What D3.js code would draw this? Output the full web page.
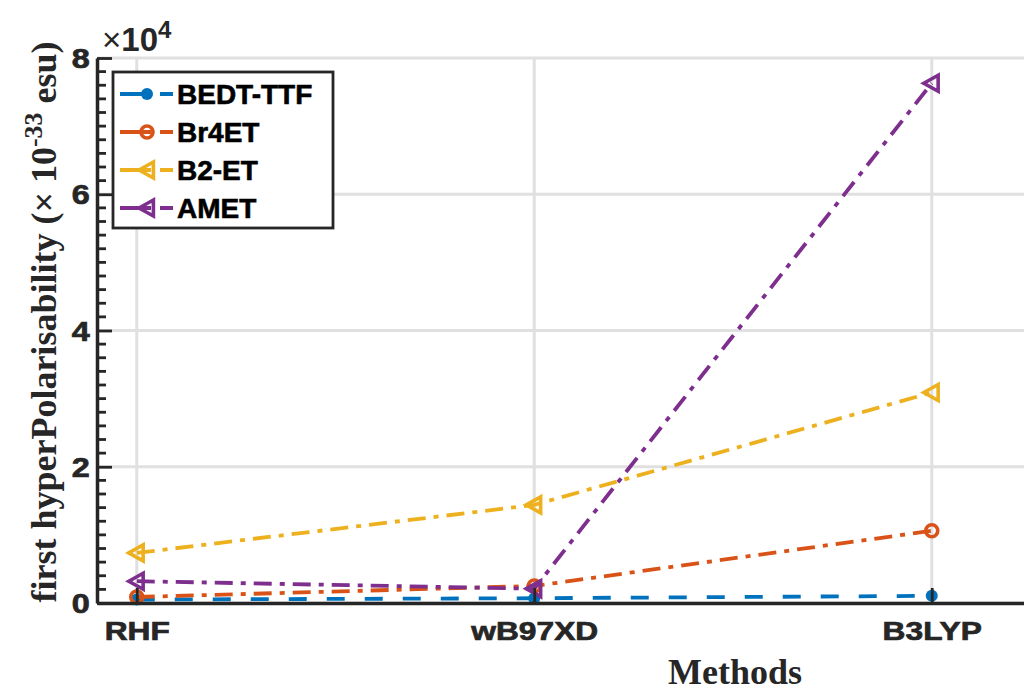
<!DOCTYPE html>
<html><head><meta charset="utf-8">
<script src="https://cdn.jsdelivr.net/npm/d3@7"></script>
<style>
body{margin:0;background:#fff;}
svg{display:block;}
</style></head>
<body><svg id="c" width="1024" height="691"></svg>
<script>
const categories = ["RHF", "wB97XD", "B3LYP"];
const seriesNames = ["BEDT-TTF", "Br4ET", "B2-ET", "AMET"];
const bedtValues = [500, 700, 1050];
const br4Values = [880, 2500, 10600];
const b2Values = [7350, 14400, 30900];
const ametValues = [3200, 2100, 76300];
const yTicks = [0, 20000, 40000, 60000, 80000];
const yTickLabels = ["0", "2", "4", "6", "8"];

const colors = ["#0072BD", "#D95319", "#EDB120", "#7E2F8E"];
const dashes = ["18,20", "18,8,5,8", "18,8,5,8", "18,8,5,8"];
const markerTypes = ["dot", "circle", "tri", "tri"];
const allValues = [bedtValues, br4Values, b2Values, ametValues];

const svg = d3.select("#c");
const pLeft = 97, pBottom = 603, pTop = 58;
const x = d3.scaleLinear().domain([0.9, 3.3]).range([pLeft, pLeft + 2.4 * 397.5]);
const y = d3.scaleLinear().domain([0, 80000]).range([pBottom, pTop]);
const axisCol = "#262626";
const sans = "Liberation Sans, Arial, sans-serif";
const serif = "Liberation Serif, Times New Roman, serif";

// grid
const grid = svg.append("g").attr("stroke", "#e0e0e0").attr("stroke-width", 3);
categories.forEach((c, i) => grid.append("line").attr("x1", x(i + 1)).attr("x2", x(i + 1)).attr("y1", pTop).attr("y2", pBottom));
yTicks.forEach(t => grid.append("line").attr("x1", pLeft).attr("x2", 1024).attr("y1", y(t)).attr("y2", y(t)));

// lines
const line = d3.line().x((d, i) => x(i + 1)).y(d => y(d));
function marker(g, type, color, cx, cy) {
  if (type === "dot") {
    g.append("circle").attr("cx", cx).attr("cy", cy).attr("r", 6).attr("fill", color);
  } else if (type === "circle") {
    g.append("circle").attr("cx", cx).attr("cy", cy).attr("r", 6).attr("fill", "none")
      .attr("stroke", color).attr("stroke-width", 3.6);
  } else {
    const s = 8;
    g.append("path").attr("d", `M${cx - s},${cy}L${cx + s * 0.8},${cy - s}L${cx + s * 0.8},${cy + s}Z`)
      .attr("fill", "none").attr("stroke", color).attr("stroke-width", 3.6).attr("stroke-linejoin", "miter");
  }
}
allValues.forEach((vals, k) => {
  svg.append("path").datum(vals).attr("d", line).attr("fill", "none")
    .attr("stroke", colors[k]).attr("stroke-width", 3.8).attr("stroke-dasharray", dashes[k]);
  const g = svg.append("g");
  vals.forEach((v, i) => marker(g, markerTypes[k], colors[k], x(i + 1), y(v)));
});

// minor ticks
const minor = d3.range(0, 80001, 2000).filter(v => v % 20000 !== 0);
svg.append("g").selectAll("rect").data(minor).join("rect")
  .attr("x", pLeft).attr("width", 9).attr("y", d => y(d) - 1.4).attr("height", 2.8)
  .attr("fill", axisCol);

// y axis
svg.append("g").attr("transform", `translate(${pLeft},0)`)
  .call(d3.axisLeft(y).tickValues(yTicks).tickSize(-15).tickPadding(6).tickSizeOuter(0)
    .tickFormat((d, i) => yTickLabels[i]))
  .call(g => g.select(".domain").attr("stroke", axisCol).attr("stroke-width", 3.5))
  .call(g => g.selectAll(".tick line").attr("stroke", axisCol).attr("stroke-width", 2.8))
  .call(g => g.selectAll("text").attr("fill", axisCol).attr("stroke", axisCol).attr("stroke-width", 0.7)
    .attr("font-family", sans).attr("font-weight", "bold")
    .attr("font-size", 27).attr("dy", "0.36em").attr("transform", "scale(1.2,1)"));

// x axis
svg.append("g").attr("transform", `translate(0,${pBottom})`)
  .call(d3.axisBottom(x).tickValues([1, 2, 3]).tickSize(-15).tickPadding(14).tickSizeOuter(0)
    .tickFormat((d, i) => categories[i]))
  .call(g => g.select(".domain").attr("stroke", axisCol).attr("stroke-width", 3.5))
  .call(g => g.selectAll(".tick line").attr("stroke", axisCol).attr("stroke-width", 2.8))
  .call(g => g.selectAll("text").attr("fill", axisCol).attr("stroke", axisCol).attr("stroke-width", 0.7)
    .attr("font-family", sans).attr("font-weight", "bold")
    .attr("font-size", 26).attr("dy", "0.9em").attr("transform", "scale(1.22,1)"));

// exponent label
const ex = svg.append("text").attr("x", 102).attr("y", 51).attr("fill", axisCol)
  .attr("font-family", sans).attr("font-size", 33);
ex.append("tspan").text("×");
ex.append("tspan").attr("font-weight", "bold").text("10");
ex.append("tspan").attr("font-weight", "bold").attr("font-size", 24).attr("dy", -13).text("4");

// axis titles
svg.append("text").attr("x", 735).attr("y", 684).attr("text-anchor", "middle")
  .attr("font-family", serif).attr("font-weight", "bold")
  .attr("font-size", 36).attr("fill", axisCol).text("Methods");

const yl = svg.append("text").attr("transform", "translate(56,322) rotate(-90)").attr("text-anchor", "middle")
  .attr("font-family", serif).attr("font-weight", "bold")
  .attr("font-size", 36).attr("fill", axisCol);
yl.append("tspan").text("first hyperPolarisability  (× 10");
yl.append("tspan").attr("font-size", 26).attr("dy", -14).text("-33");
yl.append("tspan").attr("dy", 14).text(" esu)");

// legend
const lg = svg.append("g");
lg.append("rect").attr("x", 113).attr("y", 72).attr("width", 220).attr("height", 156)
  .attr("fill", "#fff").attr("stroke", axisCol).attr("stroke-width", 2.8);
const rowY = [94, 132, 170, 208];
seriesNames.forEach((n, k) => {
  lg.append("line").attr("x1", 120).attr("x2", 173).attr("y1", rowY[k]).attr("y2", rowY[k])
    .attr("stroke", colors[k]).attr("stroke-width", 3.8).attr("stroke-dasharray", "31,9,13");
  marker(lg, markerTypes[k], colors[k], 147, rowY[k]);
  lg.append("text").attr("x", 177).attr("y", rowY[k]).attr("dy", "0.36em")
    .attr("font-family", sans).attr("font-weight", "bold").attr("stroke", "#000").attr("stroke-width", 0.6)
    .attr("font-size", 28).attr("fill", "#000").text(n);
});
</script></body></html>
